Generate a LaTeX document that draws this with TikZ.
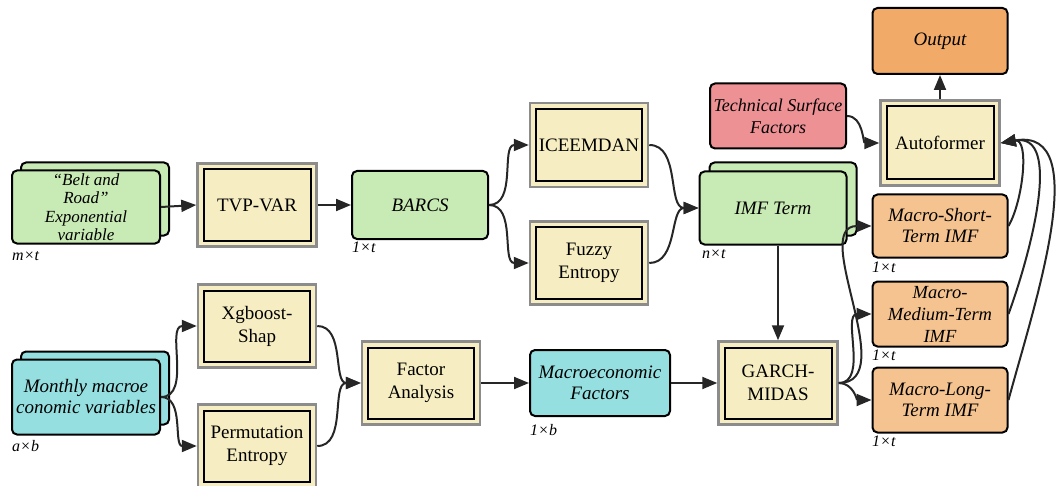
\documentclass[tikz,border=0pt]{standalone}
\usepackage{fontspec}
\setmainfont{Liberation Serif}
\usetikzlibrary{arrows.meta}

\definecolor{boxgreen}{HTML}{C8EAB4}
\definecolor{boxcyan}{HTML}{95DFE0}
\definecolor{boxcream}{HTML}{F6EEC2}
\definecolor{boxorange}{HTML}{F2AA68}
\definecolor{boxpeach}{HTML}{F5C390}
\definecolor{boxred}{HTML}{EE9195}
\definecolor{rimgray}{HTML}{8C8C8C}

\tikzset{
  data/.style={draw=black,line width=2pt,rounded corners=5pt,minimum width=148pt,minimum height=73pt,
    inner sep=1pt,align=center,font=\fontsize{19}{21}\selectfont\itshape},
  method/.style={draw=rimgray,line width=2.5pt,fill=boxcream,minimum width=119pt,minimum height=83pt,
    align=center,font=\fontsize{19}{23}\selectfont,
    path picture={\draw[black,line width=2pt]
      ([shift={(6pt,-6pt)}]path picture bounding box.north west) rectangle
      ([shift={(-6pt,6pt)}]path picture bounding box.south east);}},
  dim/.style={anchor=north west,inner sep=0pt,font=\fontsize{16}{18}\selectfont\itshape},
  link/.style={line width=2pt,black!85,-{Triangle[length=15pt,width=12pt]}}
}

\begin{document}
\begin{tikzpicture}[x=1pt,y=-1pt]
  \useasboundingbox (0,0) rectangle (1056,486);

  % inputs
  \node[data,fill=boxgreen] (beltback) at (95,199) {};
  \node[data,fill=boxgreen,font=\fontsize{17}{18.5}\selectfont\itshape] (belt) at (86,207) {“Belt and\\Road\symbol{34}\\Exponential\\variable};
  \node[data,fill=boxcyan] (monthback) at (95,388) {};
  \node[data,fill=boxcyan,minimum height=75pt] (month) at (86,397) {Monthly macroe\\conomic variables};

  % upper branch
  \node[method] (tvpvar) at (257,205) {TVP-VAR};
  \node[data,fill=boxgreen,minimum width=136pt,minimum height=68pt] (barcs) at (420,205) {BARCS};
  \node[method,minimum width=118pt,minimum height=84pt] (iceemdan) at (589,145) {ICEEMDAN};
  \node[method,minimum width=118pt] (fuzzy) at (589,263) {Fuzzy\\Entropy};
  \node[data,fill=boxgreen,minimum width=147pt] (imfback) at (783,199) {};
  \node[data,fill=boxgreen,minimum width=147pt] (imf) at (773,208) {IMF Term};

  % lower branch
  \node[method,minimum width=118pt] (xgboost) at (257,326) {Xgboost-\\Shap};
  \node[method,minimum width=118pt] (permut) at (257,446) {Permutation\\Entropy};
  \node[method,minimum width=118pt] (factor) at (421,383) {Factor\\Analysis};
  \node[data,fill=boxcyan,minimum width=140pt,minimum height=66pt] (macrofac) at (600,383) {Macroeconomic\\Factors};
  \node[method] (garch) at (778,383) {GARCH-\\MIDAS};

  % right column
  \node[data,fill=boxorange,minimum width=135pt,minimum height=66pt] (output) at (940,41) {Output};
  \node[data,fill=boxred,minimum width=136pt,minimum height=65pt,inner sep=0pt,font=\fontsize{18}{22}\selectfont\itshape] (techsurf) at (778,116) {Technical Surface\\Factors};
  \node[method,minimum height=85pt] (autoformer) at (940,143) {Autoformer};
  \node[data,fill=boxpeach,minimum width=135pt,minimum height=63pt] (short) at (940,226) {Macro-Short-\\Term IMF};
  \node[data,fill=boxpeach,minimum width=135pt,minimum height=65pt,inner sep=0pt,font=\fontsize{18.5}{22}\selectfont\itshape] (medium) at (940,314) {Macro-\\Medium-Term\\IMF};
  \node[data,fill=boxpeach,minimum width=135pt,minimum height=65pt] (long) at (940,400) {Macro-Long-\\Term IMF};

  % sizes
  \node[dim] (dimbelt) at (12,251) {m×t};
  \node[dim] (dimbarcs) at (352,242) {1×t};
  \node[dim] (dimimf) at (702,249) {n×t};
  \node[dim] (dimmonth) at (12,440) {a×b};
  \node[dim] (dimmacro) at (530,424) {1×b};
  \node[dim] (dimshort) at (872,262) {1×t};
  \node[dim] (dimmedium) at (872,350) {1×t};
  \node[dim] (dimlong) at (872,436) {1×t};

  % connectors
  \draw[link] (belt.east) -- (tvpvar.west);
  \draw[link] (tvpvar.east) -- (barcs.west);
  \foreach \n in {iceemdan,fuzzy} {
    \draw[link] (barcs.east) to[out=0,in=180] (\n.west);
    \draw[link] (\n.east) to[out=0,in=180] (imf.west);
  }
  \draw[link] (garch.north |- imf.south) -- (garch.north);
  \foreach \n in {xgboost,permut} {
    \draw[link] (month.east) to[out=0,in=180] (\n.west);
    \draw[link] (\n.east) to[out=0,in=180] (factor.west);
  }
  \draw[link] (factor) -- (macrofac);
  \draw[link] (macrofac) -- (garch);
  \foreach \n in {short,medium,long}
    \draw[link] (garch.east) to[out=0,in=180] (\n.west);
  \draw[link] (techsurf.east) to[out=0,in=180] (autoformer.west);
  \draw[link] (autoformer) -- (output);
  \draw[link] (short.east) to[out=60,in=10,looseness=0.9] (autoformer.east);
  \draw[link] (medium.east) to[out=70,in=10,looseness=0.95] (autoformer.east);
  \draw[link] (long.east) to[out=75,in=10,looseness=0.95] (autoformer.east);
\end{tikzpicture}
\end{document}
